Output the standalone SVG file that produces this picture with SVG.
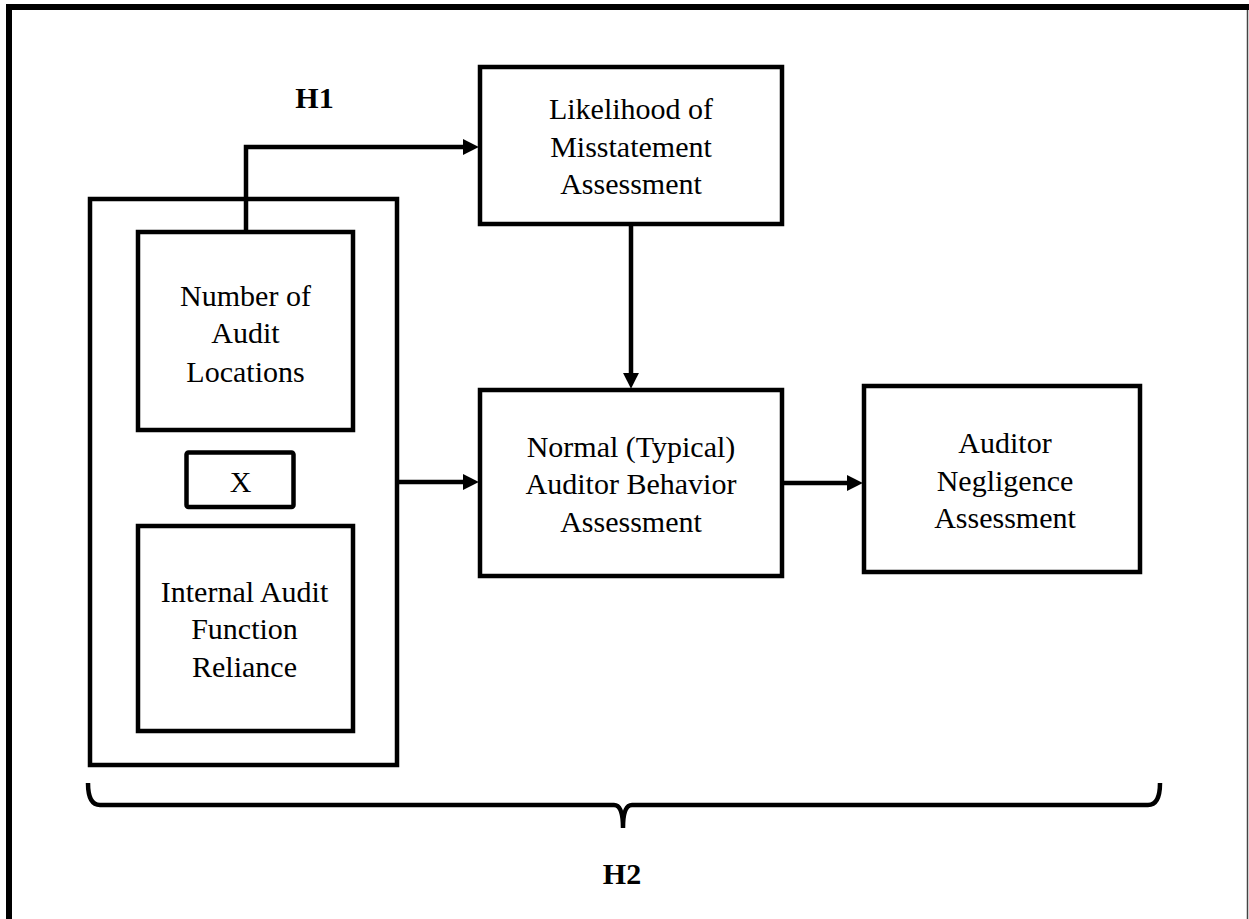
<svg xmlns="http://www.w3.org/2000/svg" width="1249" height="919" viewBox="0 0 1249 919">
<style>
.box{fill:#fff;stroke:#000;stroke-width:4.5}
.t{font-family:"Liberation Serif","Times New Roman",serif;font-size:30px;fill:#000;text-anchor:middle}
.h{font-family:"Liberation Serif","Times New Roman",serif;font-size:30px;font-weight:bold;fill:#000;text-anchor:middle}
.c{fill:none;stroke:#000;stroke-width:4.5}
</style>
<defs>
<marker id="ah" markerUnits="userSpaceOnUse" markerWidth="16" markerHeight="16" refX="8" refY="7" orient="auto" viewBox="0 0 14 14">
<path d="M0,0 L14,7 L0,14 z" fill="#000"/>
</marker>
</defs>
<rect width="1249" height="919" fill="#fff"/>
<g id="frame">
<line x1="6" y1="7" x2="1249" y2="7" stroke="#000" stroke-width="6"/>
<line x1="9" y1="4" x2="9" y2="919" stroke="#000" stroke-width="6"/>
<line x1="1247.5" y1="10" x2="1247.5" y2="919" stroke="#444" stroke-width="1.5"/>
</g>
<g id="group-box">
<rect class="box" x="90" y="199" width="307" height="566"/>
</g>
<g id="connectors">
<path class="c" d="M246 232 V147 H472" marker-end="url(#ah)"/>
<path class="c" d="M631 226 V382" marker-end="url(#ah)"/>
<path class="c" d="M399 482 H472" marker-end="url(#ah)"/>
<path class="c" d="M782 483 H856" marker-end="url(#ah)"/>
</g>
<g id="number-of-audit-locations">
<rect class="box" x="138" y="232" width="215" height="198"/>
<text class="t" x="245.5" y="306">Number of</text>
<text class="t" x="245.5" y="343">Audit</text>
<text class="t" x="245.5" y="382">Locations</text>
</g>
<g id="x-box">
<rect class="box" x="186.5" y="452.5" width="107" height="54.5" rx="2" stroke-width="4"/>
<text class="t" x="240.5" y="492">X</text>
</g>
<g id="internal-audit-function-reliance">
<rect class="box" x="138" y="526" width="215" height="205"/>
<text class="t" x="244.5" y="602">Internal Audit</text>
<text class="t" x="244.5" y="639">Function</text>
<text class="t" x="244.5" y="677">Reliance</text>
</g>
<g id="likelihood-of-misstatement">
<rect class="box" x="480" y="67" width="302" height="157"/>
<text class="t" x="631" y="119">Likelihood of</text>
<text class="t" x="631" y="157">Misstatement</text>
<text class="t" x="631" y="194">Assessment</text>
</g>
<g id="normal-auditor-behavior">
<rect class="box" x="480" y="390" width="302" height="186"/>
<text class="t" x="631" y="457">Normal (Typical)</text>
<text class="t" x="631" y="494">Auditor Behavior</text>
<text class="t" x="631" y="532">Assessment</text>
</g>
<g id="auditor-negligence">
<rect class="box" x="864" y="386" width="276" height="186"/>
<text class="t" x="1005" y="453">Auditor</text>
<text class="t" x="1005" y="491">Negligence</text>
<text class="t" x="1005" y="528">Assessment</text>
</g>
<g id="h1-label">
<text class="h" x="314.5" y="108">H1</text>
</g>
<g id="h2-brace">
<path d="M88 783 Q88 805 100 805 L614 805 Q623 805 623 828 Q623 805 632 805 L1148 805 Q1160 805 1160 783" fill="none" stroke="#000" stroke-width="4.5"/>
<text class="h" x="622" y="884">H2</text>
</g>
</svg>
